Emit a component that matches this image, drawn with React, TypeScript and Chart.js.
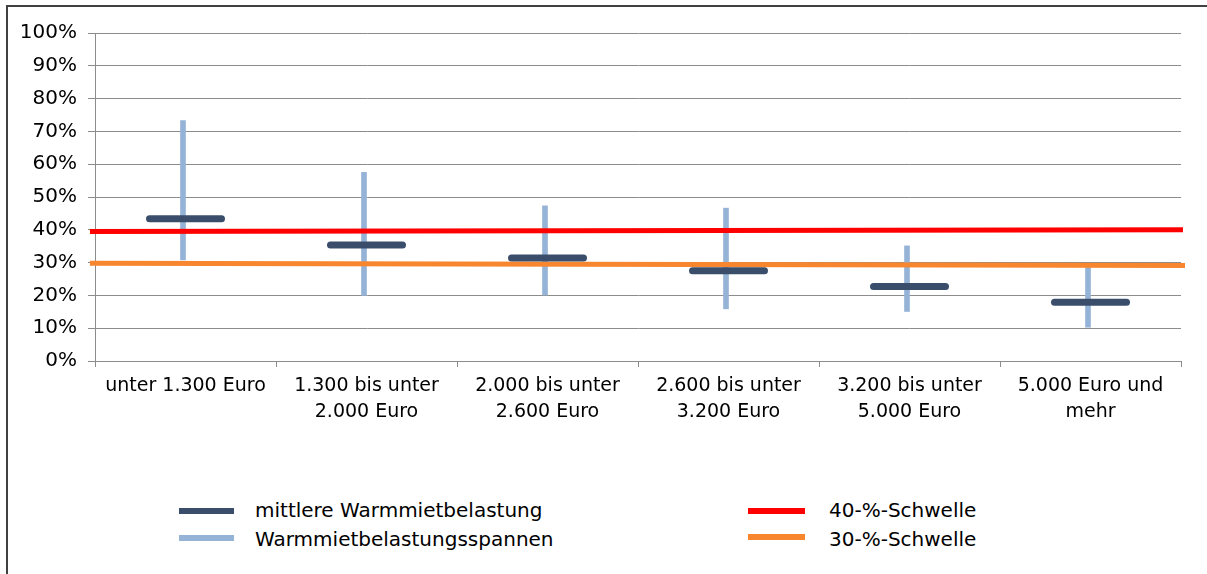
import React, { useEffect, useRef } from 'react';
import { Chart, registerables } from 'chart.js';

Chart.register(...registerables);

// ---- data ----
const categories: string[][] = [
  ['unter 1.300 Euro'],
  ['1.300 bis unter', '2.000 Euro'],
  ['2.000 bis unter', '2.600 Euro'],
  ['2.600 bis unter', '3.200 Euro'],
  ['3.200 bis unter', '5.000 Euro'],
  ['5.000 Euro und', 'mehr'],
];
const medianValues = [43.4, 35.4, 31.4, 27.5, 22.7, 17.9];
const rangeLow = [30.8, 20.0, 20.1, 15.9, 15.1, 10.3];
const rangeHigh = [73.3, 57.5, 47.3, 46.6, 35.1, 28.5];
const threshold40 = [
  { x: -0.528, y: 39.5 },
  { x: 5.511, y: 40.0 },
];
const threshold30 = [
  { x: -0.528, y: 29.8 },
  { x: 5.522, y: 29.1 },
];
const seriesNames = [
  'mittlere Warmmietbelastung',
  'Warmmietbelastungsspannen',
  '40-%-Schwelle',
  '30-%-Schwelle',
];
const yMin = 0;
const yMax = 100;
const yStep = 10;

// ---- style ----
const COL_MEDIAN = '#3a4e6c';
const COL_RANGE = '#95b3d7';
const COL_RED = '#ff0000';
const COL_ORANGE = '#f8862f';
const COL_GRID = '#8c8c8c';
const FONT = "'DejaVu Sans', sans-serif";

const roundCaps = {
  id: 'roundCaps',
  beforeDatasetDraw(chart: any, args: any) {
    if (args.index === 0) chart.ctx.lineCap = 'round';
  },
  afterDatasetDraw(chart: any) {
    chart.ctx.lineCap = 'butt';
  },
};

export default function App() {
  const ref = useRef<HTMLCanvasElement | null>(null);

  useEffect(() => {
    if (!ref.current) return;
    const chart = new Chart(ref.current, {
      type: 'bar',
      data: {
        labels: categories,
        datasets: [
          {
            type: 'line',
            label: seriesNames[0],
            data: medianValues,
            xAxisID: 'x',
            yAxisID: 'y',
            showLine: false,
            pointStyle: 'line',
            pointRadius: 36,
            pointHoverRadius: 36,
            pointBorderWidth: 7,
            pointHoverBorderWidth: 7,
            pointBorderColor: COL_MEDIAN,
            pointBackgroundColor: COL_MEDIAN,
            borderColor: COL_MEDIAN,
            backgroundColor: COL_MEDIAN,
            order: 0,
          } as any,
          {
            type: 'bar',
            label: seriesNames[1],
            data: rangeLow.map((lo, i) => [lo, rangeHigh[i]]),
            xAxisID: 'x',
            yAxisID: 'y',
            backgroundColor: COL_RANGE,
            borderWidth: 0,
            barThickness: 5,
            order: 3,
          } as any,
          {
            type: 'line',
            label: seriesNames[2],
            data: threshold40,
            xAxisID: 'xl',
            yAxisID: 'y',
            borderColor: COL_RED,
            backgroundColor: COL_RED,
            borderWidth: 5,
            pointRadius: 0,
            pointHoverRadius: 0,
            clip: false,
            order: 1,
          } as any,
          {
            type: 'line',
            label: seriesNames[3],
            data: threshold30,
            xAxisID: 'xl',
            yAxisID: 'y',
            borderColor: COL_ORANGE,
            backgroundColor: COL_ORANGE,
            borderWidth: 5,
            pointRadius: 0,
            pointHoverRadius: 0,
            clip: false,
            order: 2,
          } as any,
        ],
      },
      options: {
        animation: false,
        responsive: false,
        maintainAspectRatio: false,
        events: [],
        layout: { autoPadding: false, padding: { top: 33, right: 26, left: 0, bottom: 0 } },
        plugins: {
          legend: { display: false },
          tooltip: { enabled: false },
          title: { display: false },
        },
        scales: {
          x: {
            type: 'category',
            position: 'bottom',
            weight: 0,
            offset: true,
            grid: {
              display: true,
              drawOnChartArea: false,
              drawTicks: true,
              tickLength: 6,
              offset: true,
              color: COL_GRID,
              lineWidth: 1,
            },
            border: { display: true, color: COL_GRID, width: 1 },
            ticks: {
              color: '#000',
              font: { family: FONT, size: 19, lineHeight: 1.32 },
              padding: 7,
              maxRotation: 0,
              minRotation: 0,
              autoSkip: false,
            },
            afterFit(scale: any) {
              scale.height = 99;
            },
          },
          xl: {
            type: 'linear',
            position: 'bottom',
            weight: 1,
            display: true,
            min: -0.5,
            max: 5.5,
            offset: false,
            grid: { display: false, drawTicks: false, drawOnChartArea: false },
            border: { display: false },
            ticks: { display: false },
            afterFit(scale: any) {
              scale.height = 0;
              scale.paddingLeft = 0;
              scale.paddingRight = 0;
            },
          },
          y: {
            type: 'linear',
            position: 'left',
            min: yMin,
            max: yMax,
            grid: {
              color: COL_GRID,
              lineWidth: 1,
              drawTicks: true,
              tickLength: 7,
            },
            border: { display: true, color: COL_GRID, width: 1 },
            ticks: {
              stepSize: yStep,
              color: '#000',
              padding: 11,
              font: { family: FONT, size: 20 },
              callback: (v: any) => `${v}%`,
            },
            afterFit(scale: any) {
              scale.width = 95;
            },
          },
        },
      },
      plugins: [roundCaps],
    } as any);
    return () => chart.destroy();
  }, []);

  const legendText: React.CSSProperties = {
    position: 'absolute',
    fontFamily: FONT,
    fontSize: 20,
    color: '#000',
    lineHeight: '24px',
    whiteSpace: 'nowrap',
  };
  const swatch = (left: number, top: number, width: number, color: string): React.CSSProperties => ({
    position: 'absolute',
    left,
    top,
    width,
    height: 6,
    background: color,
  });

  return (
    <div
      style={{
        position: 'fixed',
        left: 0,
        top: 0,
        width: 1207,
        height: 574,
        background: '#fff',
        overflow: 'hidden',
      }}
    >
      <div
        style={{
          position: 'absolute',
          left: 6,
          top: 5,
          width: 1220,
          height: 600,
          borderLeft: '2px solid #404040',
          borderTop: '2px solid #404040',
        }}
      />
      <canvas
        ref={ref}
        width={1207}
        height={460}
        style={{ position: 'absolute', left: 0, top: 0, width: 1207, height: 460 }}
      />
      <div style={swatch(179, 508, 55, COL_MEDIAN)} />
      <div style={{ ...legendText, left: 255, top: 498 }}>{seriesNames[0]}</div>
      <div style={swatch(179, 535, 55, COL_RANGE)} />
      <div style={{ ...legendText, left: 255, top: 527 }}>{seriesNames[1]}</div>
      <div style={swatch(748, 508, 57, COL_RED)} />
      <div style={{ ...legendText, left: 829, top: 498 }}>{seriesNames[2]}</div>
      <div style={swatch(748, 534, 57, COL_ORANGE)} />
      <div style={{ ...legendText, left: 829, top: 527 }}>{seriesNames[3]}</div>
    </div>
  );
}
